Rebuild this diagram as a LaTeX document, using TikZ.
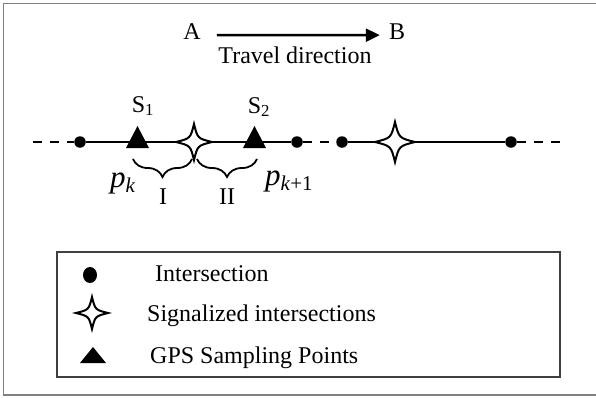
\documentclass[tikz,border=0pt]{standalone}
\usepackage{fontspec}
\setmainfont{Liberation Serif}
\usetikzlibrary{arrows.meta,decorations.pathreplacing,shapes.geometric}
\begin{document}
\begin{tikzpicture}[x=1pt,y=-1pt,
  every node/.style={font=\fontsize{24}{28}\selectfont, inner sep=0pt},
  dot/.style={circle, fill=black, minimum size=11.5pt, inner sep=0pt},
  legdot/.style={ellipse, fill=black, minimum width=14pt, minimum height=16pt, inner sep=0pt},
  road/.style={line width=2.2pt},
  dashroad/.style={line width=1.8pt, dash pattern=on 9pt off 8pt},
  starsty/.style={fill=white, draw=black, line width=2pt, line join=miter},
  bracesty/.style={decorate, decoration={brace, mirror, amplitude=18pt}, line width=1.8pt},
  framesty/.style={draw=black!50, line width=1.5pt},
  legendsty/.style={draw=black!75, line width=2pt, minimum width=503pt, minimum height=125pt},
  arrowsty/.style={line width=2.6pt, -{Triangle[length=14pt,width=13pt]}},
  sigstar/.pic={\filldraw[starsty] (1,0) .. controls (0.2,0.2) .. (0,1) .. controls (-0.2,0.2) .. (-1,0) .. controls (-0.2,-0.2) .. (0,-1) .. controls (0.2,-0.2) .. (1,0) -- cycle;}
]
\useasboundingbox (0,0) rectangle (596,397);
\draw[framesty] (620,3.5) -- (3.5,3.5) -- (3.5,395) -- (620,395);

% travel direction
\node[anchor=base] (A) at (192,39) {A};
\node[anchor=base] (B) at (397,39) {B};
\draw[arrowsty, shorten <=16pt, shorten >=9pt] ([yshift=-4pt]A.east) -- ([yshift=-4pt]B.west);
\node[anchor=base] (td) at (295,63) {Travel direction};

% road
\coordinate (lend) at (33,142);
\node[dot] (d1) at (80,142) {};
\node[dot] (d2) at (297,142) {};
\node[dot] (d3) at (342,142) {};
\node[dot] (d4) at (511,142) {};
\coordinate (rend) at (560,142);
\draw[dashroad] (lend) -- (d1);
\draw[road] (d1) -- (d2);
\draw[dashroad] (d2) -- (d3);
\draw[road] (d3) -- (d4);
\draw[dashroad] (d4) -- (rend);

% GPS points
\coordinate (s1) at (137.5,142);
\coordinate (s2) at (254.5,142);
\fill[shift={(s1)}] (-11.5,6) -- (11.5,6) -- (0,-16) -- cycle;
\fill[shift={(s2)}] (-11.5,6) -- (11.5,6) -- (0,-16) -- cycle;
\node[anchor=base] (S1) at (143,112) {S\textsubscript{1}};
\node[anchor=base] (S2) at (259,113) {S\textsubscript{2}};

% signalized intersections
\coordinate (g1) at (194,142);
\coordinate (g2) at (395,142);
\pic[scale=18] at (g1) {sigstar};
\pic[scale=20] at (g2) {sigstar};

% braces
\coordinate (b1s) at (133,159);
\coordinate (b1e) at (192,159);
\coordinate (b2s) at (197,159);
\coordinate (b2e) at (257,159);
\draw[bracesty] (b1s) -- (b1e);
\draw[bracesty] (b2s) -- (b2e);
\node[anchor=base] (lI) at (163,204) {I};
\node[anchor=base] (lII) at (227,204) {II};
\node[anchor=base west] (pk) at (110,187) {\fontsize{31}{31}\selectfont\textit{p}\raisebox{-5pt}{\fontsize{21}{21}\selectfont\textit{k}}};
\node[anchor=base west] (pk1) at (265,185) {\fontsize{31}{31}\selectfont\textit{p}\raisebox{-5pt}{\fontsize{21}{21}\selectfont\textit{k}+1}};

% legend
\node[legendsty] (legend) at (308.5,314.5) {};
\node[legdot] (ld) at (90,275) {};
\coordinate (ls) at (92,313);
\pic[scale=16] at (ls) {sigstar};
\coordinate (lt) at (93,355);
\fill[shift={(lt)}] (-13,8) -- (13,8) -- (0,-8) -- cycle;
\node[anchor=base west] (t1) at (155,281) {Intersection};
\node[anchor=base west] (t2) at (147,321) {Signalized intersections};
\node[anchor=base west] (t3) at (150,363) {GPS Sampling Points};
\end{tikzpicture}
\end{document}
